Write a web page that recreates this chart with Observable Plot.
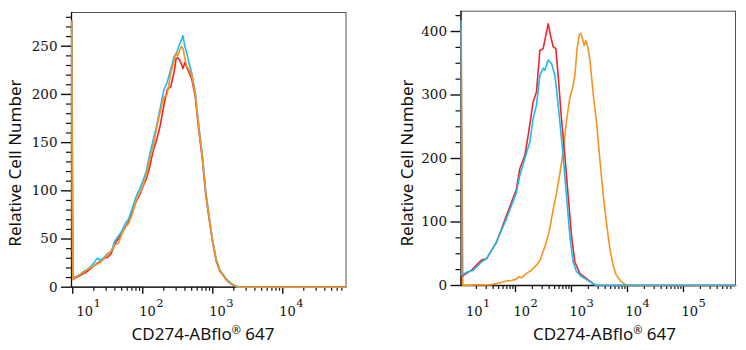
<!DOCTYPE html>
<html><head><meta charset="utf-8">
<script src="https://cdn.jsdelivr.net/npm/d3@7"></script>
<script src="https://cdn.jsdelivr.net/npm/@observablehq/plot@0.6"></script>
<style>
body{margin:0;background:#fff;}
#wrap{display:flex;width:746px;height:350px;background:#fff;}
</style></head><body><div id="wrap"></div>
<script>
// ---------- data (x given as log10 of fluorescence intensity) ----------
const xTitle = "CD274-ABflo® 647";
const yTitle = "Relative Cell Number";
const colRed = "#f2232b", colCyan = "#17bef0", colOrange = "#f7931f";

// Left panel
const leftLogX = [0.985, 1.0, 1.05, 1.1, 1.15, 1.2, 1.25, 1.3, 1.35, 1.4, 1.45, 1.5, 1.55, 1.6, 1.65, 1.7, 1.75, 1.8, 1.85, 1.9, 1.95, 2.0, 2.05, 2.1, 2.15, 2.2, 2.25, 2.3, 2.35, 2.4, 2.45, 2.475, 2.5, 2.525, 2.55, 2.575, 2.6, 2.625, 2.65, 2.7, 2.75, 2.8, 2.85, 2.9, 2.95, 3.0, 3.05, 3.1, 3.15, 3.2, 3.25, 3.3, 3.35, 3.4, 4.9];
const leftRed    = [276, 8, 10, 12, 14, 16, 19, 22, 25, 27, 30, 31, 35, 45, 50, 56, 62, 68, 78, 88, 95, 104, 112, 125, 142, 153, 168, 188, 205, 208, 224, 237, 238, 236, 232, 227, 233, 229, 225, 216, 198, 163, 134, 96, 70, 46, 27, 17, 12, 7, 4, 2, 0, 0, 0];
const leftCyan   = [276, 10, 11, 13, 16, 18, 21, 25, 30, 28, 31, 35, 37, 48, 53, 58, 66, 71, 82, 93, 101, 110, 120, 138, 153, 168, 186, 204, 213, 226, 240, 241, 247, 252, 256, 261, 250, 244, 236, 222, 203, 168, 138, 99, 73, 48, 29, 18, 13, 8, 5, 2, 0, 0, 0];
const leftOrange = [276, 8, 11, 13, 15, 18, 20, 22, 24, 26, 30, 34, 38, 44, 45, 55, 62, 66, 76, 89, 97, 105, 116, 133, 146, 166, 182, 197, 200, 222, 236, 243, 240, 245, 250, 248, 238, 230, 227, 220, 200, 166, 136, 98, 72, 47, 28, 18, 13, 7, 4, 2, 1, 0, 0];
const leftYMajor = [0, 50, 100, 150, 200, 250];
const leftYMinor = [10, 20, 30, 40, 60, 70, 80, 90, 110, 120, 130, 140, 160, 170, 180, 190, 210, 220, 230, 240, 260, 270, 280];
const leftXMajor = [10, 100, 1000, 10000];
const leftXMinor = [20, 30, 40, 50, 60, 70, 80, 90, 200, 300, 400, 500, 600, 700, 800, 900, 2000, 3000, 4000, 5000, 6000, 7000, 8000, 9000, 20000, 30000, 40000, 50000, 60000, 70000];
const leftXLabelVals = [10, 100, 1000, 10000];
const leftXExp = ["1", "2", "3", "4"];

// Right panel
const rightRedLogX = [1.03, 1.036, 1.125, 1.214, 1.304, 1.393, 1.482, 1.571, 1.661, 1.75, 1.839, 1.929, 2.018, 2.077, 2.167, 2.226, 2.315, 2.375, 2.435, 2.494, 2.542, 2.583, 2.625, 2.673, 2.72, 2.762, 2.821, 2.881, 2.94, 3.0, 3.06, 3.149, 3.268, 3.387, 3.446, 5.93];
const rightRed = [415, 14, 19, 24, 32, 40, 42, 55, 68, 89, 110, 131, 152, 184, 205, 236, 289, 305, 370, 373, 394, 412, 394, 376, 373, 331, 263, 205, 142, 79, 37, 19, 11, 3, 0, 0];
const rightCyanLogX = [1.03, 1.036, 1.125, 1.244, 1.393, 1.482, 1.571, 1.661, 1.75, 1.839, 1.929, 2.018, 2.077, 2.167, 2.256, 2.315, 2.375, 2.435, 2.494, 2.524, 2.583, 2.643, 2.702, 2.732, 2.792, 2.851, 2.911, 2.97, 3.03, 3.089, 3.179, 3.327, 3.446, 5.93];
const rightCyan = [417, 16, 21, 24, 37, 42, 55, 69, 87, 105, 126, 147, 173, 200, 226, 263, 284, 331, 342, 339, 355, 350, 331, 310, 258, 205, 142, 79, 37, 22, 14, 6, 0, 0];
const rightOrangeLogX = [1.03, 1.06, 1.304, 1.542, 1.661, 1.839, 1.929, 2.018, 2.06, 2.107, 2.196, 2.286, 2.375, 2.44, 2.554, 2.613, 2.673, 2.732, 2.792, 2.851, 2.911, 2.97, 3.03, 3.06, 3.101, 3.137, 3.167, 3.196, 3.226, 3.256, 3.286, 3.327, 3.39, 3.45, 3.51, 3.57, 3.63, 3.69, 3.75, 3.8, 3.89, 3.98, 5.93];
const rightOrange = [405, 0, 1, 1, 3, 7, 8, 10, 14, 12, 19, 24, 32, 40, 69, 90, 120, 145, 176, 210, 260, 295, 315, 331, 373, 394, 397, 389, 378, 386, 378, 357, 300, 255, 195, 140, 95, 55, 30, 16, 6, 0, 0];
const rightYMajor = [0, 100, 200, 300, 400];
const rightYMinor = [25, 50, 75, 125, 150, 175, 225, 250, 275, 325, 350, 375, 425];
const rightXMajor = [100, 1000, 10000, 100000];
const rightXMinor = [20, 30, 40, 50, 60, 70, 80, 90, 200, 300, 400, 500, 600, 700, 800, 900, 2000, 3000, 4000, 5000, 6000, 7000, 8000, 9000, 20000, 30000, 40000, 50000, 60000, 70000, 80000, 90000, 200000, 300000, 400000, 500000, 600000, 700000];
const rightXLabelVals = [10, 100, 1000, 10000, 100000];
const rightXExp = ["1", "2", "3", "4", "5"];

// ---------- drawing ----------
const serif = "'DejaVu Serif', 'Liberation Serif', serif";
const sans = "'Noto Sans', 'Open Sans', sans-serif";
const toRows = (lx, ys) => lx.map((e, i) => ({x: Math.pow(10, e), y: ys[i]}));

function panel(o) {
  const idx = o.labelVals.map((d, i) => i);
  const marks = [
    Plot.axisY(o.yMinor, {tickSize: 5, tickFormat: () => "", label: null, strokeWidth: 1.2}),
    Plot.axisY(o.yMajor, {tickSize: 10, tickPadding: 4, label: null, strokeWidth: 1.4}),
    Plot.axisX(o.xMinor, {tickSize: 4, tickFormat: () => "", label: null, strokeWidth: 1.2}),
    Plot.axisX(o.xMajor, {tickSize: 7, tickFormat: () => "", label: null, strokeWidth: 1.4}),
    Plot.frame({stroke: "#555", strokeWidth: 1}),
    Plot.ruleX([o.xDomain[0]], {stroke: "#111", strokeWidth: 1.3}),
    Plot.ruleY([0], {stroke: "#111", strokeWidth: 1.3}),
    ...o.series.map(s => Plot.line(s.rows, {x: "x", y: "y", stroke: s.color, strokeWidth: 1.6})),
    // x tick labels: "10" with superscript exponent
    Plot.text(idx.slice(1), {x: i => o.labelVals[i], text: () => "10", frameAnchor: "bottom", textAnchor: "start", lineAnchor: "bottom", dx: o.labDx, dy: o.baseDy, fontSize: 13, fontFamily: serif, fill: "#111"}),
    Plot.text(idx.slice(1), {x: i => o.labelVals[i], text: i => o.exps[i], frameAnchor: "bottom", textAnchor: "start", lineAnchor: "bottom", dx: o.labDx + 17, dy: o.baseDy - 9, fontSize: 11.5, fontFamily: serif, fill: "#111"}),
    Plot.text([0], {text: () => "10", frameAnchor: "bottom-left", textAnchor: "start", lineAnchor: "bottom", dx: 5, dy: o.baseDy, fontSize: 13, fontFamily: serif, fill: "#111"}),
    Plot.text([0], {text: i => o.exps[i], frameAnchor: "bottom-left", textAnchor: "start", lineAnchor: "bottom", dx: 22, dy: o.baseDy - 9, fontSize: 11.5, fontFamily: serif, fill: "#111"}),
    // axis titles
    Plot.text([xTitle], {text: d => d, frameAnchor: "bottom", textAnchor: "middle", lineAnchor: "bottom", dx: o.xtDx, dy: o.xtDy, fontSize: 17, fontFamily: sans, fill: "#111"}),
    Plot.text([yTitle], {text: d => d, frameAnchor: "left", rotate: -90, textAnchor: "middle", lineAnchor: "middle", dx: o.ytDx, dy: o.ytDy, fontSize: 17, fontFamily: sans, fill: "#111"})
  ];
  return Plot.plot({
    width: 373, height: 350,
    marginLeft: o.m[0], marginRight: o.m[1], marginTop: o.m[2], marginBottom: o.m[3],
    x: {type: "log", domain: o.xDomain},
    y: {domain: o.yDomain},
    style: {fontFamily: serif, fontSize: "13.5px", color: "#111", background: "white", overflow: "visible"},
    marks
  });
}

const left = panel({
  m: [71, 27.5, 12, 63.3],
  xDomain: [Math.pow(10, 0.982), Math.pow(10, 4.904)], yDomain: [0, 285],
  yMajor: leftYMajor, yMinor: leftYMinor, xMajor: leftXMajor, xMinor: leftXMinor,
  labelVals: leftXLabelVals, exps: leftXExp, labDx: -3.5, baseDy: 28.3,
  xtDx: -5.7, xtDy: 52.3, ytDx: -55.5, ytDy: 13.2,
  series: [
    {rows: toRows(leftLogX, leftRed), color: colRed},
    {rows: toRows(leftLogX, leftCyan), color: colCyan},
    {rows: toRows(leftLogX, leftOrange), color: colOrange}
  ]
});
const right = panel({
  m: [87.5, 11, 10.7, 65],
  xDomain: [Math.pow(10, 1.027), Math.pow(10, 5.929)], yDomain: [0, 432],
  yMajor: rightYMajor, yMinor: rightYMinor, xMajor: rightXMajor, xMinor: rightXMinor,
  labelVals: rightXLabelVals, exps: rightXExp, labDx: -2, baseDy: 30,
  xtDx: 6.2, xtDy: 54, ytDx: -53, ytDy: 14.6,
  series: [
    {rows: toRows(rightOrangeLogX, rightOrange), color: colOrange},
    {rows: toRows(rightRedLogX, rightRed), color: colRed},
    {rows: toRows(rightCyanLogX, rightCyan), color: colCyan}
  ]
});
const wrap = document.getElementById("wrap");
wrap.appendChild(left);
wrap.appendChild(right);

// render the ® as a small raised mark, as in the original
document.querySelectorAll("text").forEach(t => {
  if (t.textContent === xTitle) {
    const [a, b] = xTitle.split("®");
    t.textContent = "";
    const ns = "http://www.w3.org/2000/svg";
    const s1 = document.createElementNS(ns, "tspan"); s1.textContent = a;
    const s2 = document.createElementNS(ns, "tspan"); s2.textContent = "®"; s2.setAttribute("font-size", "11"); s2.setAttribute("dy", "-6");
    const s3 = document.createElementNS(ns, "tspan"); s3.textContent = b; s3.setAttribute("dy", "6");
    t.append(s1, s2, s3);
  }
});
</script></body></html>
